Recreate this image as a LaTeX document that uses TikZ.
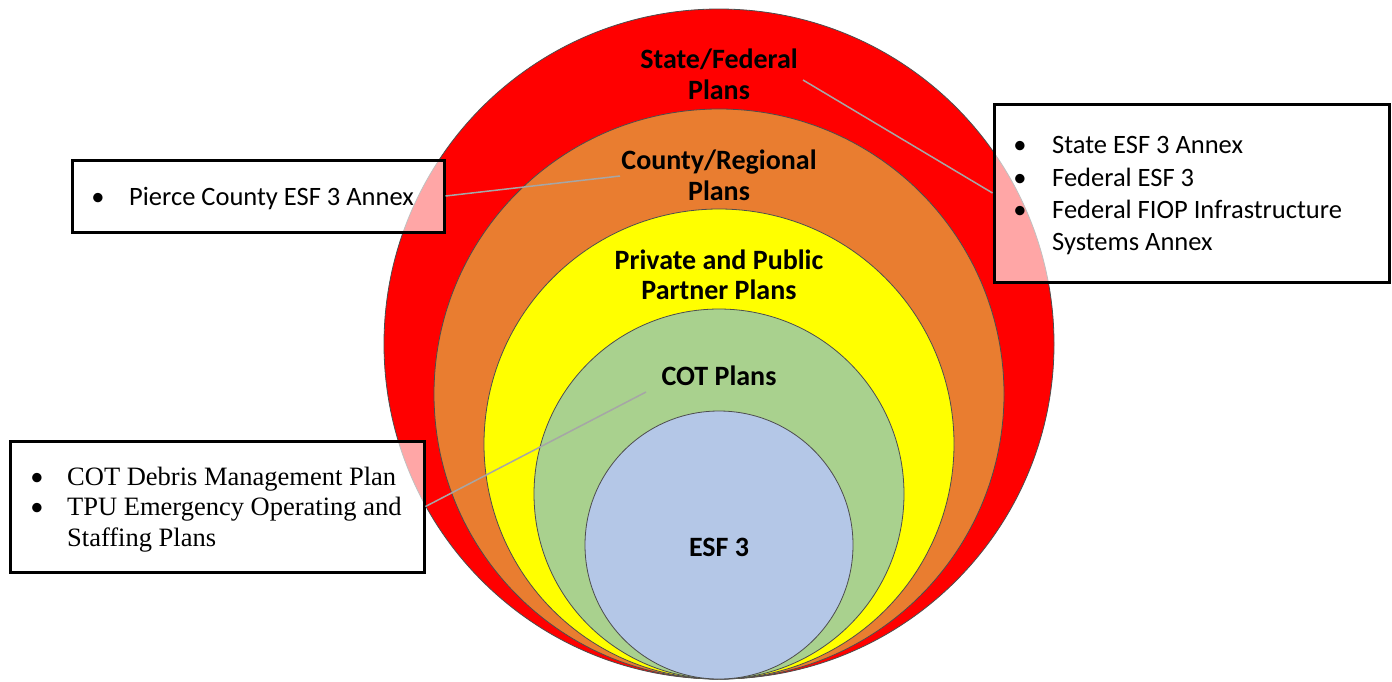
\documentclass[tikz,border=0pt]{standalone}
\usepackage{fontspec}
\setmainfont{Carlito}
\newfontfamily\timesfont{Liberation Serif}
\definecolor{cred}{HTML}{FF0000}
\definecolor{corange}{HTML}{E97D30}
\definecolor{cyellow}{HTML}{FFFF00}
\definecolor{cgreen}{HTML}{A9D18E}
\definecolor{cblue}{HTML}{B4C7E7}
\definecolor{cline}{HTML}{A6A6A6}
\definecolor{cedge}{HTML}{4D4D4D}
\begin{document}
\begin{tikzpicture}[x=1pt,y=-1pt,
 ring/.style={draw=cedge,line width=0.8pt},
 lbl/.style={font=\fontsize{28}{31}\selectfont\bfseries, anchor=base, inner sep=0pt},
 infobox/.style={draw=black, line width=3pt, fill=white, fill opacity=0.65, anchor=center, inner sep=0pt},
 itemtxt/.style={font=\fontsize{26.5}{32}\selectfont, anchor=base west, inner sep=0pt},
 bul/.style={font=\fontsize{26.5}{32}\selectfont, anchor=base, inner sep=0pt},
 ttxt/.style={font=\timesfont\fontsize{26.5}{30}\selectfont, anchor=base west, inner sep=0pt},
 link/.style={draw=cline, line width=1.5pt}]
\useasboundingbox (0,0) rectangle (1392,681);
% rings
\draw[ring, fill=cred] (719,344) circle (335pt);
\draw[ring, fill=corange] (719,394) circle (285pt);
\draw[ring, fill=cyellow] (719,444) circle (235pt);
\draw[ring, fill=cgreen] (719,494) circle (185pt);
\draw[ring, fill=cblue] (719,545) circle (134pt);
% labels
\node[lbl] (sf1) at (719,68) {State/Federal};
\node[lbl] (sf2) at (719,99) {Plans};
\node[lbl] (cr1) at (719,169) {County/Regional};
\node[lbl] (cr2) at (719,200) {Plans};
\node[lbl] (pp1) at (719,269) {Private and Public};
\node[lbl] (pp2) at (719,299) {Partner Plans};
\node[lbl] (cot) at (719,385) {COT Plans};
\node[lbl] (esf) at (719,556) {ESF 3};
% connector ends
\coordinate (sfend) at (803,80);
\coordinate (crend) at (620,176);
\coordinate (cotend) at (646,392);
% boxes
\node[infobox, minimum width=372pt, minimum height=72pt] (box1) at (258,196) {};
\node[infobox, minimum width=395pt, minimum height=178pt] (box2) at (1191.5,193) {};
\node[infobox, minimum width=414pt, minimum height=131pt] (box3) at (217,506.5) {};
% connectors
\draw[link] (sfend) -- (box2.west);
\draw[link] (crend) -- (box1.east);
\draw[link] (cotend) -- (box3.east);
% box 1 text
\node[bul] (b1a) at (98,205) {•};
\node[itemtxt] (t1a) at (129,205) {Pierce County ESF 3 Annex};
% box 2 text
\node[bul] (b2a) at (1020,153) {•};
\node[itemtxt] (t2a) at (1052,153) {State ESF 3 Annex};
\node[bul] (b2b) at (1020,186) {•};
\node[itemtxt] (t2b) at (1052,186) {Federal ESF 3};
\node[bul] (b2c) at (1020,218) {•};
\node[itemtxt] (t2c) at (1052,218) {Federal FIOP Infrastructure};
\node[itemtxt] (t2d) at (1052,250) {Systems Annex};
% box 3 text
\node[bul] (b3a) at (37,485) {•};
\node[ttxt] (t3a) at (67,485) {COT Debris Management Plan};
\node[bul] (b3b) at (37,515) {•};
\node[ttxt] (t3b) at (67,515) {TPU Emergency Operating and};
\node[ttxt] (t3c) at (67,546) {Staffing Plans};
\end{tikzpicture}
\end{document}
